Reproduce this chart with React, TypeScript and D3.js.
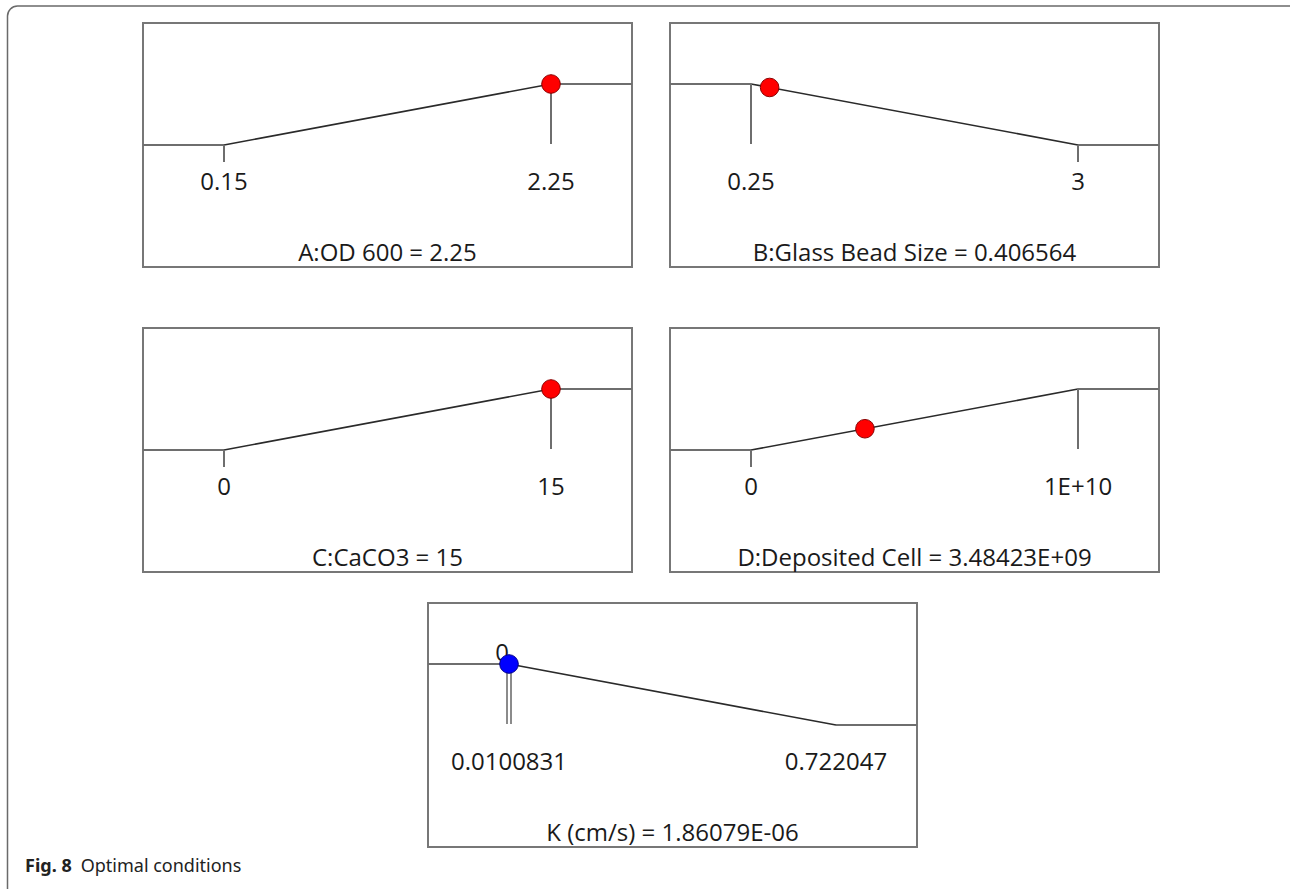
import React, { useEffect } from "react";
import * as d3 from "d3";

// ---- data ----
const panelNames = ["A:OD 600", "B:Glass Bead Size", "C:CaCO3", "D:Deposited Cell", "K (cm/s)"];
const lowLimits = [0.15, 0.25, 0, 0, 0.0100831];
const highLimits = [2.25, 3, 15, 1e10, 0.722047];
const lowLabels = ["0.15", "0.25", "0", "0", "0.0100831"];
const highLabels = ["2.25", "3", "15", "1E+10", "0.722047"];
const optimalValues = [2.25, 0.406564, 15, 3.48423e9, 1.86079e-6];
const valueLabels = ["2.25", "0.406564", "15", "3.48423E+09", "1.86079E-06"];
const goals = ["maximize", "minimize", "maximize", "maximize", "minimize"];
const isResponse = [false, false, false, false, true];
const responseMarkerLabels = ["", "", "", "", "0"];
const captionBold = "Fig. 8";
const captionText = "Optimal conditions";

// ---- layout ----
const W = 1290;
const H = 889;
const boxW = 489;
const boxH = 244;
const panelPos = [
  [143, 23],
  [670, 23],
  [143, 328],
  [670, 328],
  [428, 603],
];
const FONT = "'Open Sans', 'Noto Sans', sans-serif";
const FS = 24;

function Panel({ i }: { i: number }) {
  const [bx, by] = panelPos[i];
  const x = d3.scaleLinear().domain([lowLimits[i], highLimits[i]]).range([bx + 81, bx + 408]).clamp(true);
  const y = d3.scaleLinear().domain([0, 1]).range([by + 122, by + 61]);
  const maximize = goals[i] === "maximize";
  const dLow = maximize ? 0 : 1;
  const dHigh = maximize ? 1 : 0;
  const xl = x(lowLimits[i]);
  const xh = x(highLimits[i]);
  const line = d3.line<[number, number]>().x((p) => p[0]).y((p) => p[1]);
  const v = optimalValues[i];
  const frac = Math.max(0, Math.min(1, (v - lowLimits[i]) / (highLimits[i] - lowLimits[i])));
  const desir = maximize ? frac : 1 - frac;
  const px = x(v);
  const py = y(desir);
  const gray = "#6e6e6e";
  const tickBelow = 17;
  const ticks: JSX.Element[] = [];
  if (maximize) {
    ticks.push(<line key="tl" x1={xl} x2={xl} y1={y(0)} y2={y(0) + tickBelow} stroke={gray} strokeWidth={2} />);
    ticks.push(<line key="th" x1={xh} x2={xh} y1={y(1)} y2={y(0) - 1} stroke={gray} strokeWidth={2} />);
  } else if (!isResponse[i]) {
    ticks.push(<line key="tl" x1={xl} x2={xl} y1={y(1)} y2={y(0) - 1} stroke={gray} strokeWidth={2} />);
    ticks.push(<line key="th" x1={xh} x2={xh} y1={y(0)} y2={y(0) + tickBelow} stroke={gray} strokeWidth={2} />);
  } else {
    ticks.push(<line key="tl1" x1={xl - 2} x2={xl - 2} y1={y(1)} y2={y(0) - 1} stroke={gray} strokeWidth={1.6} />);
    ticks.push(<line key="tl2" x1={xl + 2} x2={xl + 2} y1={y(1)} y2={y(0) - 1} stroke={gray} strokeWidth={1.6} />);
  }
  const labelY = by + 167;
  const titleY = by + 238;
  return (
    <g>
      <rect x={bx} y={by} width={boxW} height={boxH} fill="#fff" stroke="#777" strokeWidth={2} />
      <path d={line([[bx, y(dLow)], [xl, y(dLow)]]) || ""} stroke={gray} strokeWidth={2} fill="none" />
      <path d={line([[xh, y(dHigh)], [bx + boxW, y(dHigh)]]) || ""} stroke={gray} strokeWidth={2} fill="none" />
      <path d={line([[xl, y(dLow)], [xh, y(dHigh)]]) || ""} stroke="#2a2a2a" strokeWidth={1.6} fill="none" />
      {ticks}
      <text x={xl} y={labelY} textAnchor="middle" fontSize={FS} fontFamily={FONT} fill="#1a1a1a">{lowLabels[i]}</text>
      <text x={xh} y={labelY} textAnchor="middle" fontSize={FS} fontFamily={FONT} fill="#1a1a1a">{highLabels[i]}</text>
      <text x={bx + boxW / 2} y={titleY} textAnchor="middle" fontSize={FS} fontFamily={FONT} fill="#1a1a1a">
        {`${panelNames[i]} = ${valueLabels[i]}`}
      </text>
      {responseMarkerLabels[i] && (
        <text x={px - 7} y={py - 3} textAnchor="middle" fontSize={FS} fontFamily={FONT} fill="#1a1a1a">{responseMarkerLabels[i]}</text>
      )}
      <circle cx={px} cy={py} r={9.3}
        fill={isResponse[i] ? "#0000ff" : "#ff0000"}
        stroke={isResponse[i] ? "#00008b" : "#8b0000"} strokeWidth={1} />
    </g>
  );
}

export default function App() {
  useEffect(() => {
    document.body.style.margin = "0";
  }, []);
  return (
    <div style={{ position: "absolute", left: 0, top: 0 }}>
      <svg width={W} height={H} style={{ display: "block", background: "#fff" }}>
        <rect x={7.5} y={6} width={W + 20} height={H + 40} rx={10} ry={10} fill="none" stroke="#6a6a6a" strokeWidth={1.5} />
        {panelNames.map((_, i) => (
          <Panel key={i} i={i} />
        ))}
        <text x={25} y={872} fontSize={18} fontFamily="'Noto Sans', 'Open Sans', sans-serif" fill="#222">
          <tspan fontWeight="bold">{captionBold}</tspan>
          <tspan dx={9}>{captionText}</tspan>
        </text>
      </svg>
    </div>
  );
}
